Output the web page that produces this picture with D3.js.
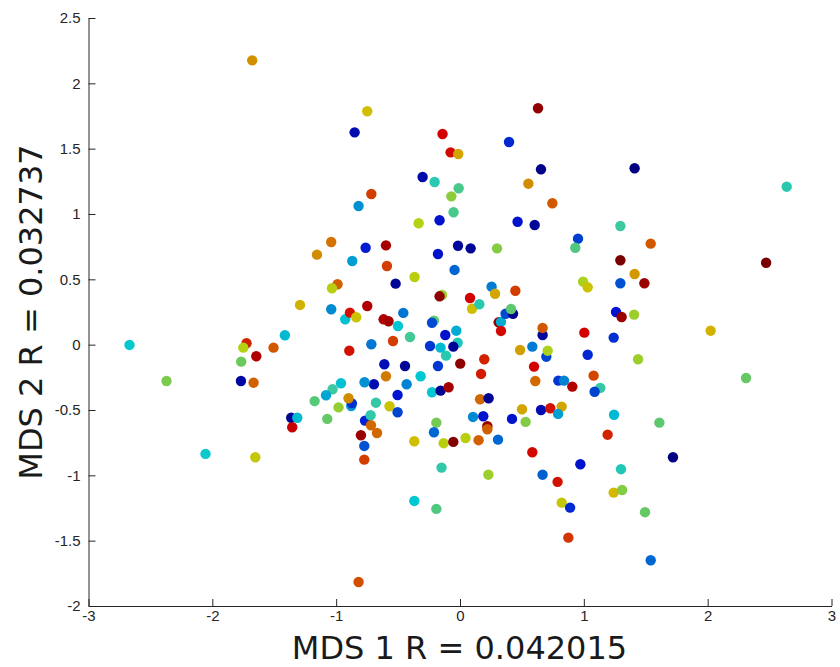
<!DOCTYPE html>
<html lang="en">
<head>
<meta charset="UTF-8">
<style>
  body { margin: 0; background: #fff; }
  .tick text { font-family: "Liberation Sans", Arial, sans-serif; font-size: 15px; fill: #262626; }
  .domain, .tick line { stroke: #262626; }
  .axis-label { font-family: "DejaVu Sans", sans-serif; font-size: 32px; fill: #1a1a1a; }
</style>
</head>
<body>
<svg id="chart" width="840" height="667"></svg>
<script src="https://d3js.org/d3.v7.min.js"></script>
<script>
// MDS coordinates, one entry per point
var mdsX = [-1.678,-0.749,-0.851,-0.141,-0.076,-0.014,0.630,0.396,0.654,0.552,
  0.746,-0.302,-0.205,-0.011,-0.070,-0.052,-0.716,-0.819,1.410,2.638,
  -1.040,-1.155,-0.989,-1.034,-1.292,-1.040,-0.927,-0.889,-0.838,-1.414,
  -2.669,-1.724,-1.750,-1.645,-1.506,-1.767,-2.370,-1.769,-1.667,-0.961,
  -1.029,-1.082,-1.174,-0.981,-1.363,-1.314,-1.355,-1.072,-2.055,-1.653,
  -0.819,-0.369,-0.191,-0.149,0.229,-0.369,-0.132,-0.054,0.045,0.150,
  0.307,-0.191,-0.210,-0.800,-0.773,-0.773,-0.767,-0.722,-0.719,-0.670,
  -0.878,-0.873,-0.679,-0.569,-0.504,0.105,0.188,0.221,0.221,0.420,
  0.501,0.530,0.654,0.729,0.821,0.792,0.584,0.667,0.788,0.821,
  0.889,0.875,0.972,1.244,1.610,1.192,1.720,1.300,1.241,1.309,
  1.494,1.540,1.295,1.540,0.953,0.931,1.295,1.410,1.295,1.489,
  0.994,1.031,2.472,1.260,1.305,1.406,1.004,1.241,2.024,1.031,
  1.438,2.310,1.079,1.133,1.087,-0.334,-0.165,0.465,0.603,-0.762,
  -0.598,-0.016,0.086,0.299,-0.178,-0.870,-0.590,-0.044,-0.367,-0.520,
  -0.145,-0.165,0.081,0.255,0.283,0.447,0.097,0.156,-0.749,-0.617,
  -0.577,-0.458,-0.501,-0.404,-0.541,-0.716,-0.894,-0.210,-0.226,-0.119,
  -0.030,-0.242,-0.157,-0.019,-0.054,-0.113,0.002,-0.178,-0.611,-0.444,
  -0.598,-0.318,-0.431,-0.695,-0.771,-0.504,-0.226,-0.157,-0.092,-0.900,
  0.162,0.231,0.196,0.170,0.312,0.331,0.331,0.368,0.428,0.412,
  0.667,0.667,0.485,0.584,0.697,0.708,0.598,0.608,0.794,0.840,
  0.907];
var mdsY = [2.176,1.786,1.625,1.612,1.472,1.459,1.809,1.551,1.342,1.232,
  1.082,1.283,1.245,1.197,1.135,1.013,1.153,1.061,1.350,1.209,
  0.786,0.689,0.462,0.432,0.304,0.271,0.194,0.245,0.210,0.072,
  -0.002,0.011,-0.023,-0.089,-0.023,-0.130,-0.278,-0.278,-0.291,-0.295,
  -0.341,-0.387,-0.432,-0.480,-0.559,-0.559,-0.632,-0.568,-0.836,-0.862,
  -1.816,-1.196,-1.257,-0.941,-0.995,-0.739,-0.754,-0.744,-0.714,-0.731,
  -0.727,-0.597,-0.670,-0.693,-0.775,-0.880,-0.581,-0.540,-0.617,-0.676,
  -0.469,-0.449,-0.444,-0.471,-0.517,-0.553,-0.548,-0.624,-0.647,-0.568,
  -0.494,-0.591,-0.500,-0.487,-0.474,-0.530,-0.823,-0.995,-1.050,-1.209,
  -1.247,-1.477,-0.915,-0.536,-0.597,-0.689,-0.862,-0.953,-1.132,-1.112,
  -1.282,-1.650,0.908,0.773,0.811,0.742,0.646,0.541,0.470,0.470,
  0.482,0.439,0.627,0.250,0.212,0.230,0.092,0.054,0.107,-0.077,
  -0.112,-0.255,-0.237,-0.331,-0.360,0.929,0.952,0.941,0.916,0.742,
  0.760,0.757,0.737,0.737,0.694,0.640,0.602,0.572,0.518,0.467,
  0.380,0.370,0.357,0.444,0.390,0.413,0.275,0.309,0.296,0.194,
  0.179,0.243,0.143,0.059,0.028,0.003,-0.046,0.184,0.168,0.074,
  0.107,-0.010,-0.023,0.015,-0.015,-0.084,-0.145,-0.163,-0.150,-0.163,
  -0.242,-0.242,-0.303,-0.303,-0.288,-0.385,-0.364,-0.352,-0.326,-0.410,
  -0.418,-0.410,-0.112,-0.224,0.171,0.174,0.105,0.237,0.237,0.273,
  0.074,0.128,-0.041,-0.015,-0.092,-0.046,-0.168,-0.278,-0.275,-0.275,
  -0.321];
// colour value of each point (0 = dark blue ... 1 = dark red)
var colorVal = [0.75,0.68,0.07,0.92,0.91,0.72,0.98,0.15,0.01,0.76,
  0.82,0.06,0.44,0.49,0.58,0.49,0.85,0.30,0.00,0.44,
  0.79,0.76,0.81,0.64,0.70,0.29,0.37,0.90,0.67,0.36,
  0.39,0.88,0.63,0.95,0.82,0.54,0.56,0.05,0.81,0.37,
  0.47,0.33,0.51,0.59,0.03,0.36,0.93,0.53,0.39,0.66,
  0.83,0.38,0.50,0.45,0.60,0.68,0.64,0.99,0.64,0.81,
  0.24,0.55,0.24,0.97,0.21,0.85,0.14,0.45,0.80,0.80,
  0.32,0.16,0.46,0.67,0.19,0.29,0.11,0.97,0.81,0.11,
  0.72,0.57,0.07,0.90,0.72,0.32,0.91,0.23,0.90,0.66,
  0.15,0.86,0.11,0.36,0.52,0.88,0.00,0.43,0.69,0.57,
  0.53,0.24,0.47,0.82,0.18,0.50,1.00,0.74,0.21,0.97,
  0.62,0.67,1.00,0.12,0.97,0.60,0.92,0.16,0.70,0.15,
  0.60,0.53,0.84,0.46,0.19,0.63,0.11,0.11,0.03,0.13,
  0.96,0.04,0.03,0.57,0.11,0.32,0.85,0.24,0.64,0.03,
  0.60,0.98,0.92,0.27,0.72,0.85,0.68,0.44,0.95,0.95,
  0.96,0.26,0.38,0.48,0.85,0.26,0.90,0.52,0.20,0.11,
  0.34,0.17,0.36,0.42,0.03,0.44,0.98,0.17,0.08,0.03,
  0.78,0.38,0.28,0.07,0.30,0.12,0.38,0.02,0.96,0.76,
  0.80,0.02,0.88,0.89,0.97,0.34,0.91,0.20,0.02,0.52,
  0.04,0.82,0.73,0.27,0.19,0.62,0.92,0.80,0.17,0.28,
  0.95];
var xTicks = [-3, -2, -1, 0, 1, 2, 3];
var yTicks = [-2, -1.5, -1, -0.5, 0, 0.5, 1, 1.5, 2, 2.5];
var xLabel = "MDS 1 R = 0.042015";
var yLabel = "MDS 2 R = 0.032737";

var svg = d3.select("#chart");

var x = d3.scaleLinear().domain([-3, 3]).range([88.5, 831.5]);
var y = d3.scaleLinear().domain([-2, 2.5]).range([606, 18]);

// jet-like colour map
var color = d3.scaleLinear()
  .domain([0, 0.12, 0.25, 0.38, 0.47, 0.53, 0.63, 0.68, 0.76, 0.92, 1])
  .range(["#000082", "#0014d2", "#006ed2", "#00c8d2", "#3cc8a0", "#64c864",
          "#b4d214", "#d2be00", "#d28c00", "#d20000", "#780000"]);

var points = mdsX.map(function(d, i) { return { x: d, y: mdsY[i], c: colorVal[i] }; });

svg.append("g")
  .attr("class", "axis")
  .attr("transform", "translate(0,606)")
  .call(d3.axisBottom(x).tickValues(xTicks).tickFormat(function(d) { return String(d); })
    .tickSizeInner(-7).tickSizeOuter(0).tickPadding(4));

svg.append("g")
  .attr("class", "axis")
  .attr("transform", "translate(88.5,0)")
  .call(d3.axisLeft(y).tickValues(yTicks).tickFormat(function(d) { return String(d); })
    .tickSizeInner(-7).tickSizeOuter(0).tickPadding(8));

svg.append("g")
  .selectAll("circle")
  .data(points)
  .enter()
  .append("circle")
    .attr("cx", function(d) { return x(d.x); })
    .attr("cy", function(d) { return y(d.y); })
    .attr("r", 5.2)
    .attr("fill", function(d) { return color(d.c); });

svg.append("text")
  .attr("class", "axis-label")
  .attr("x", 459.5)
  .attr("y", 659)
  .attr("text-anchor", "middle")
  .text(xLabel);

svg.append("text")
  .attr("class", "axis-label")
  .attr("transform", "translate(42,312) rotate(-90)")
  .attr("text-anchor", "middle")
  .text(yLabel);
</script>
</body>
</html>
